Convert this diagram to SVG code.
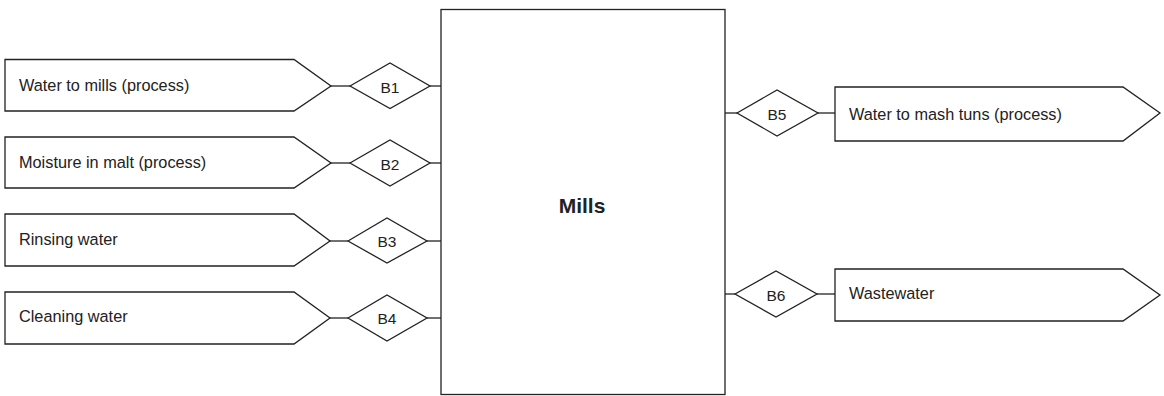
<svg xmlns="http://www.w3.org/2000/svg" width="1164" height="396" viewBox="0 0 1164 396">
<style>
.s{fill:#fff;stroke:#222;stroke-width:1.3}
.c{fill:none;stroke:#222;stroke-width:1.3}
.t{font-family:"Liberation Sans",Arial,sans-serif;font-size:16.3px;fill:#222}
.b{font-family:"Liberation Sans",Arial,sans-serif;font-size:15.5px;fill:#222;text-anchor:middle}
.m{font-family:"Liberation Sans",Arial,sans-serif;font-size:21px;font-weight:bold;fill:#222;text-anchor:middle}
</style>
<rect width="1164" height="396" fill="#fff"/>
<g id="connectors">
<line class="c" x1="331" y1="86" x2="350" y2="86"/>
<line class="c" x1="430" y1="86" x2="441" y2="86"/>
<line class="c" x1="331" y1="163" x2="350" y2="163"/>
<line class="c" x1="430" y1="163" x2="441" y2="163"/>
<line class="c" x1="330" y1="241" x2="348" y2="241"/>
<line class="c" x1="427" y1="241" x2="441" y2="241"/>
<line class="c" x1="330" y1="318" x2="348" y2="318"/>
<line class="c" x1="427" y1="318" x2="441" y2="318"/>
<line class="c" x1="725" y1="113" x2="737" y2="113"/>
<line class="c" x1="818" y1="113" x2="835" y2="113"/>
<line class="c" x1="725" y1="294" x2="735" y2="294"/>
<line class="c" x1="817" y1="294" x2="835" y2="294"/>
</g>
<g id="mills">
<rect class="s" x="441" y="9.5" width="284" height="385"/>
<text class="m" x="582" y="213">Mills</text>
</g>
<g id="in1">
<polygon class="s" points="5,59.5 294,59.5 331,86 294,111 5,111"/>
<text class="t" x="19" y="91">Water to mills (process)</text>
</g>
<g id="in2">
<polygon class="s" points="5,137 294,137 331,163 294,188 5,188"/>
<text class="t" x="19" y="168">Moisture in malt (process)</text>
</g>
<g id="in3">
<polygon class="s" points="5,214 294,214 330,241 294,266 5,266"/>
<text class="t" x="19" y="245">Rinsing water</text>
</g>
<g id="in4">
<polygon class="s" points="5,292 294,292 330,318 294,344 5,344"/>
<text class="t" x="19" y="322">Cleaning water</text>
</g>
<g id="b1">
<polygon class="s" points="350,86 390,63 430,86 390,108.5"/>
<text class="b" x="390" y="92.5">B1</text>
</g>
<g id="b2">
<polygon class="s" points="350,163 390,140 430,163 390,186"/>
<text class="b" x="390" y="169.5">B2</text>
</g>
<g id="b3">
<polygon class="s" points="348,241 387,218 427,241 387,263"/>
<text class="b" x="387" y="247">B3</text>
</g>
<g id="b4">
<polygon class="s" points="348,318 387,295 427,318 387,341"/>
<text class="b" x="387" y="324">B4</text>
</g>
<g id="b5">
<polygon class="s" points="737,113 777,90 818,113 777,136"/>
<text class="b" x="777" y="119.5">B5</text>
</g>
<g id="b6">
<polygon class="s" points="735,294 776,271 817,294 776,317"/>
<text class="b" x="776" y="300.5">B6</text>
</g>
<g id="out1">
<polygon class="s" points="835,87 1123,87 1160,113 1123,141 835,141"/>
<text class="t" x="849" y="120">Water to mash tuns (process)</text>
</g>
<g id="out2">
<polygon class="s" points="835,269 1123,269 1160,295 1123,321 835,321"/>
<text class="t" x="849" y="299">Wastewater</text>
</g>
</svg>
